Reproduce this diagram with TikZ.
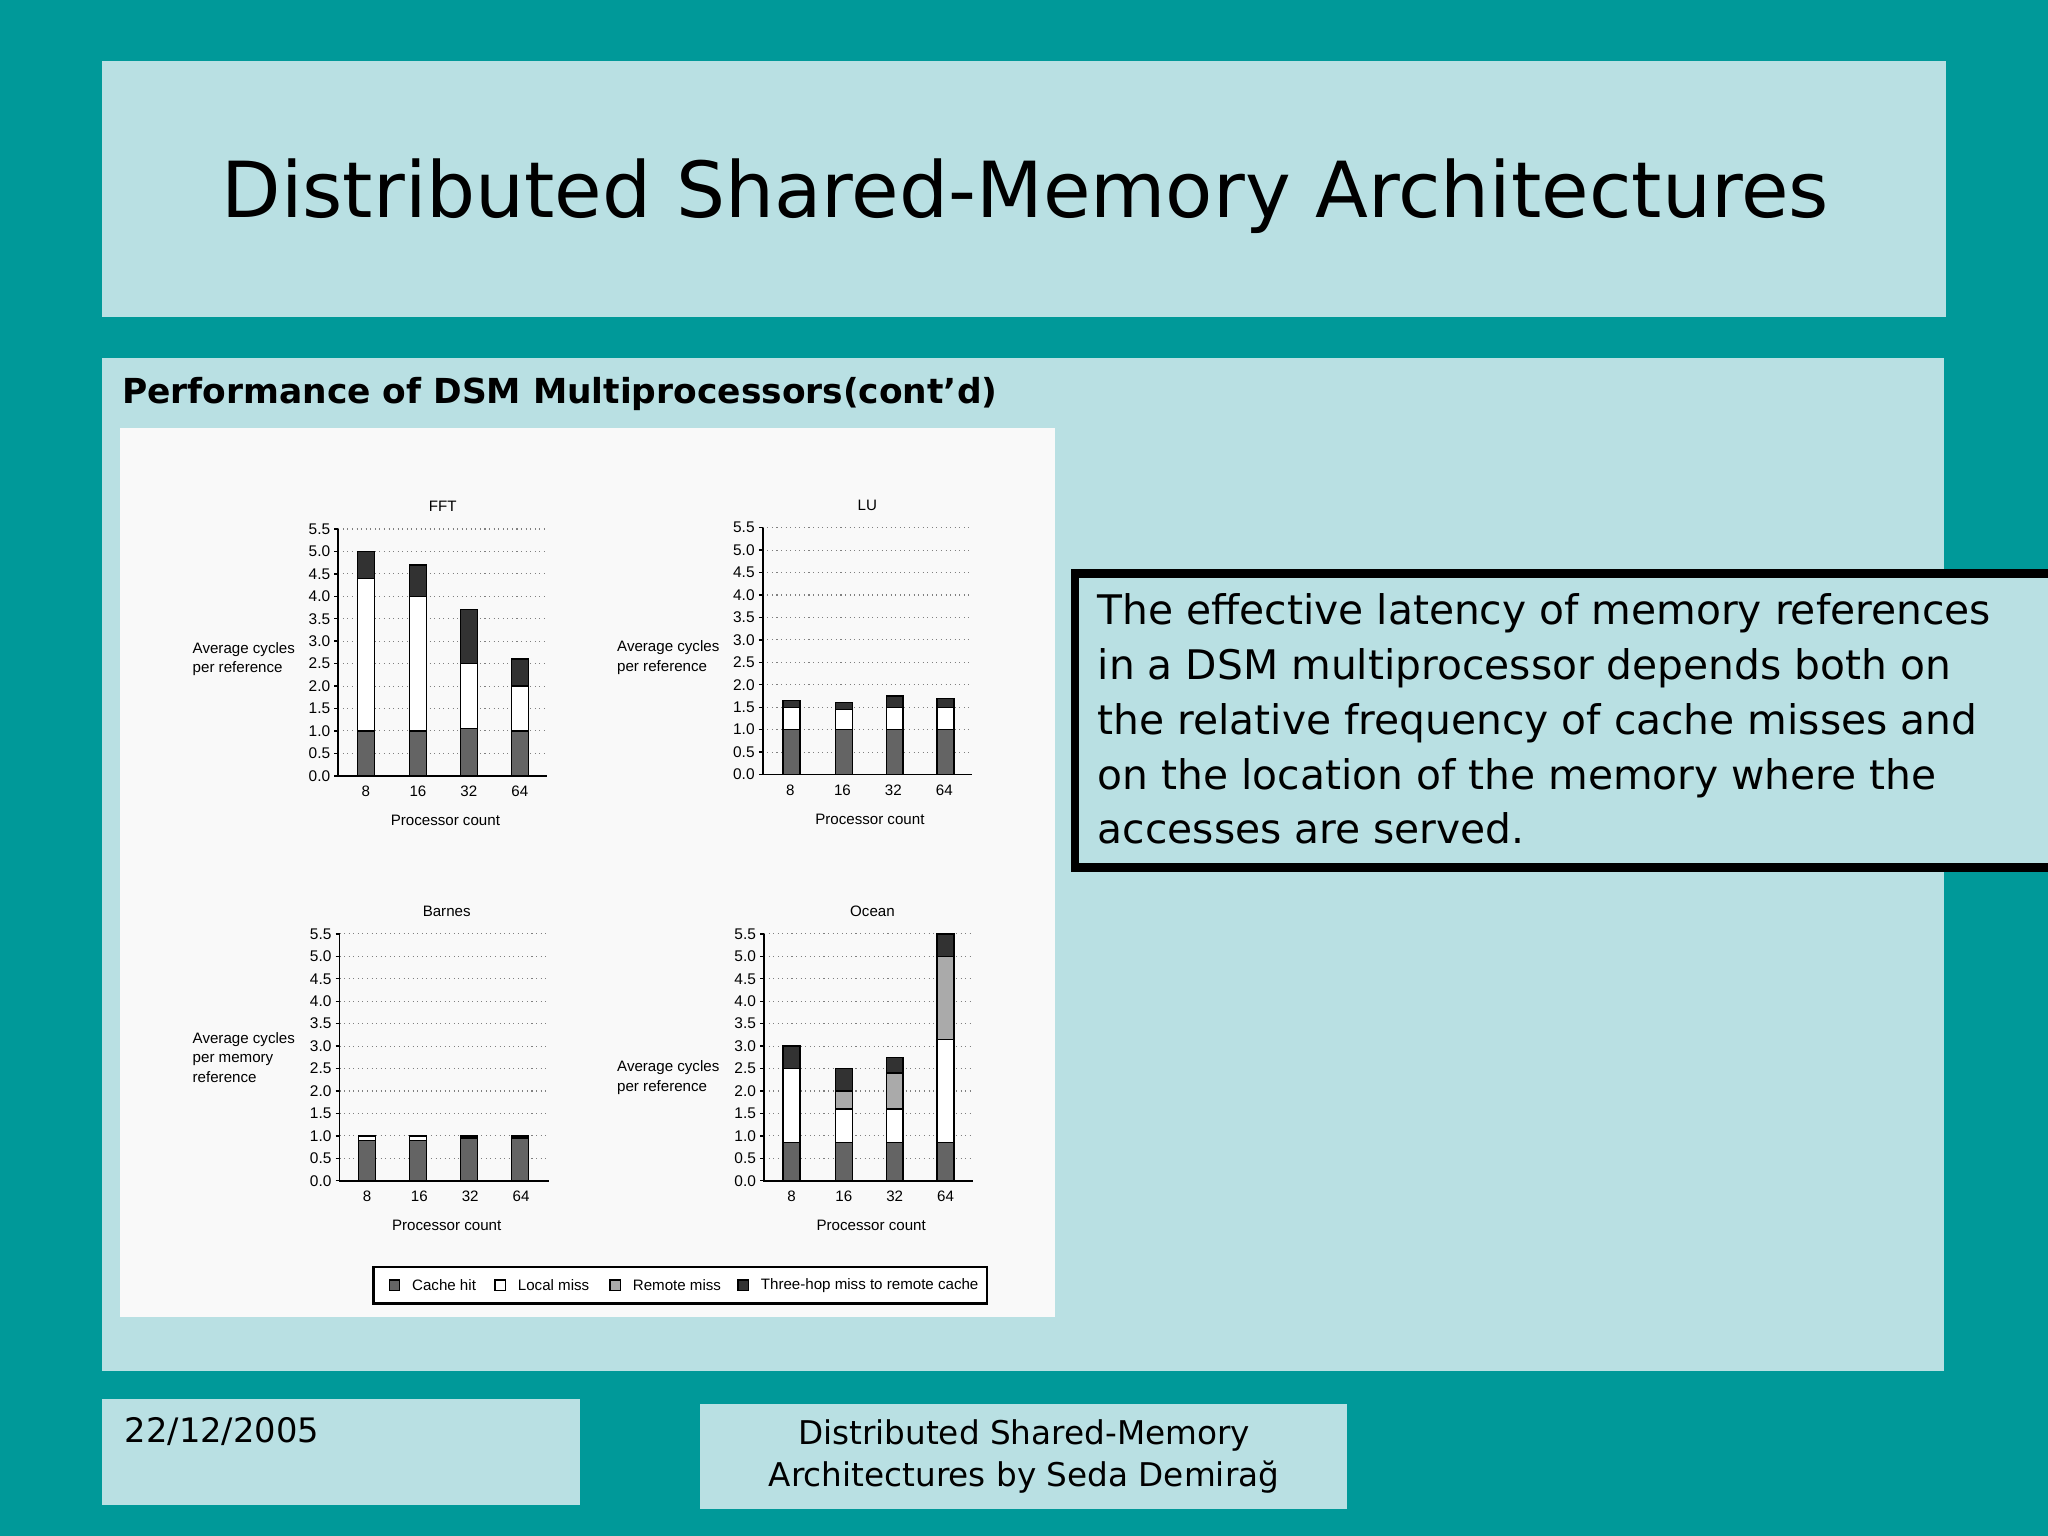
\documentclass[tikz,border=0pt]{standalone}
\usepackage{fontspec}
\setmainfont{DejaVu Sans}
\newfontfamily\chf{Liberation Sans}
\definecolor{teal0}{RGB}{0,153,153}
\definecolor{pale}{RGB}{185,224,227}
\definecolor{hit}{RGB}{100,100,100}
\definecolor{rem}{RGB}{170,170,170}
\definecolor{three}{RGB}{50,50,50}
\tikzset{
 panel/.style={fill=pale,draw=none},
 tick/.style={font=\chf\fontsize{4.4pt}{5pt}\selectfont,anchor=east,inner sep=1pt},
 lab/.style={font=\chf\fontsize{4.3pt}{5.6pt}\selectfont,inner sep=0pt},
 grid0/.style={densely dotted,line width=0.3pt,gray},
 barbox/.style={draw=black,line width=0.4pt},
}
\newcommand{\chartaxes}{%
  \foreach \v in {0.5,1.0,...,5.5} \draw[grid0] (0,\v) -- (160,\v);
  \draw[line width=0.5pt] (0,5.5) -- (0,0) -- (160,0);
  \foreach \v/\s in {0/0.0,0.5/0.5,1/1.0,1.5/1.5,2/2.0,2.5/2.5,3/3.0,3.5/3.5,4/4.0,4.5/4.5,5/5.0,5.5/5.5}{
    \draw[line width=0.4pt] (-3,\v) -- (0,\v);
    \node[tick] at (-3,\v) {\s};}
  \foreach \x/\t in {21/8,61/16,100/32,139/64}
    \node[lab] at (\x,-0.35) {\t};
  \node[lab] at (82,-1.0) {Processor count};
}
\newcommand{\seg}[4]{\draw[barbox,fill=#1] (#2-6.5,#3) rectangle (#2+6.5,#4);}
\begin{document}
\begin{tikzpicture}[x=0.013061cm,y=-0.013061cm]
\fill[teal0] (0,0) rectangle (1568,1176);
\useasboundingbox (0,0) rectangle (1568,1176);
\fill[panel] (78,47) rectangle (1490,243);
\node[font=\fontsize{22pt}{26pt}\selectfont] (title) at (785,150) {Distributed Shared-Memory Architectures};
\fill[panel] (78,274) rectangle (1488,1050);
\node[anchor=west,font=\bfseries\fontsize{9.8pt}{12pt}\selectfont,inner sep=0pt] (sub) at (93,302) {Performance of DSM Multiprocessors(cont’d)};
\fill[white!95!gray] (92,328) rectangle (808,1008);
% FFT
\begin{scope}[shift={(259,594)},yscale=-34.36]
\chartaxes
\node[lab] at (80,6.0) {FFT};
\seg{hit}{21}{0}{1.0}\seg{white}{21}{1.0}{4.4}\seg{three}{21}{4.4}{5.0}
\seg{hit}{61}{0}{1.0}\seg{white}{61}{1.0}{4.0}\seg{three}{61}{4.0}{4.7}
\seg{hit}{100}{0}{1.05}\seg{white}{100}{1.05}{2.5}\seg{three}{100}{2.5}{3.7}
\seg{hit}{139}{0}{1.0}\seg{white}{139}{1.0}{2.0}\seg{three}{139}{2.0}{2.6}
\node[lab,align=left,anchor=west] at (-112,2.6) {Average cycles\\per reference};
\end{scope}
% LU
\begin{scope}[shift={(584,593)},yscale=-34.36]
\chartaxes
\node[lab] at (80,6.0) {LU};
\seg{hit}{22}{0}{1.0}\seg{white}{22}{1.0}{1.5}\seg{three}{22}{1.5}{1.65}
\seg{hit}{62}{0}{1.0}\seg{white}{62}{1.0}{1.45}\seg{three}{62}{1.45}{1.6}
\seg{hit}{101}{0}{1.0}\seg{white}{101}{1.0}{1.5}\seg{three}{101}{1.5}{1.75}
\seg{hit}{140}{0}{1.0}\seg{white}{140}{1.0}{1.5}\seg{three}{140}{1.5}{1.7}
\node[lab,align=left,anchor=west] at (-112,2.6) {Average cycles\\per reference};
\end{scope}
% Barnes
\begin{scope}[shift={(260,904)},yscale=-34.36]
\chartaxes
\node[lab] at (82,6.0) {Barnes};
\seg{hit}{21}{0}{0.9}\seg{white}{21}{0.9}{1.0}
\seg{hit}{60}{0}{0.9}\seg{white}{60}{0.9}{1.0}
\seg{hit}{99}{0}{0.95}\seg{three}{99}{0.95}{1.0}
\seg{hit}{138}{0}{0.95}\seg{three}{138}{0.95}{1.0}
\node[lab,align=left,anchor=west] at (-113,2.75) {Average cycles\\per memory\\reference};
\end{scope}
% Ocean
\begin{scope}[shift={(585,904)},yscale=-34.36]
\chartaxes
\node[lab] at (83,6.0) {Ocean};
\seg{hit}{21}{0}{0.85}\seg{white}{21}{0.85}{2.5}\seg{three}{21}{2.5}{3.0}
\seg{hit}{61}{0}{0.85}\seg{white}{61}{0.85}{1.6}\seg{rem}{61}{1.6}{2.0}\seg{three}{61}{2.0}{2.5}
\seg{hit}{100}{0}{0.85}\seg{white}{100}{0.85}{1.6}\seg{rem}{100}{1.6}{2.4}\seg{three}{100}{2.4}{2.75}
\seg{hit}{139}{0}{0.85}\seg{white}{139}{0.85}{3.15}\seg{rem}{139}{3.15}{5.0}\seg{three}{139}{5.0}{5.5}
\node[lab,align=left,anchor=west] at (-113,2.3) {Average cycles\\per reference};
\end{scope}
% legend
\draw[line width=0.6pt,fill=white] (286,970) rectangle (756,998);
\foreach \x/\c/\t in {302/hit/Cache hit,383/white/Local miss,471/rem/Remote miss,569/three/Three-hop miss to remote cache}{
  \draw[barbox,fill=\c] (\x-4,980) rectangle (\x+4,988);
  \node[lab,anchor=west] at (\x+13,984) {\t};}
% text box
\draw[fill=pale,line width=2.5pt] (823,439) rectangle (1575,664);
\node[anchor=north west,align=left,font=\fontsize{11.6pt}{15.6pt}\selectfont,inner sep=0pt] (txt) at (840,454)
 {The effective latency of memory references\\in a DSM multiprocessor depends both on\\the relative frequency of cache misses and\\on the location of the memory where the\\accesses are served.};
% footer
\fill[panel] (78,1071) rectangle (444,1152);
\node[anchor=west,font=\fontsize{9.6pt}{12pt}\selectfont,inner sep=0pt] (date) at (95,1096) {22/12/2005};
\fill[panel] (536,1075) rectangle (1031,1155);
\node[align=center,font=\fontsize{9.3pt}{11.8pt}\selectfont] (foot) at (784,1115) {Distributed Shared-Memory\\Architectures by Seda Demirağ};
\end{tikzpicture}
\end{document}
